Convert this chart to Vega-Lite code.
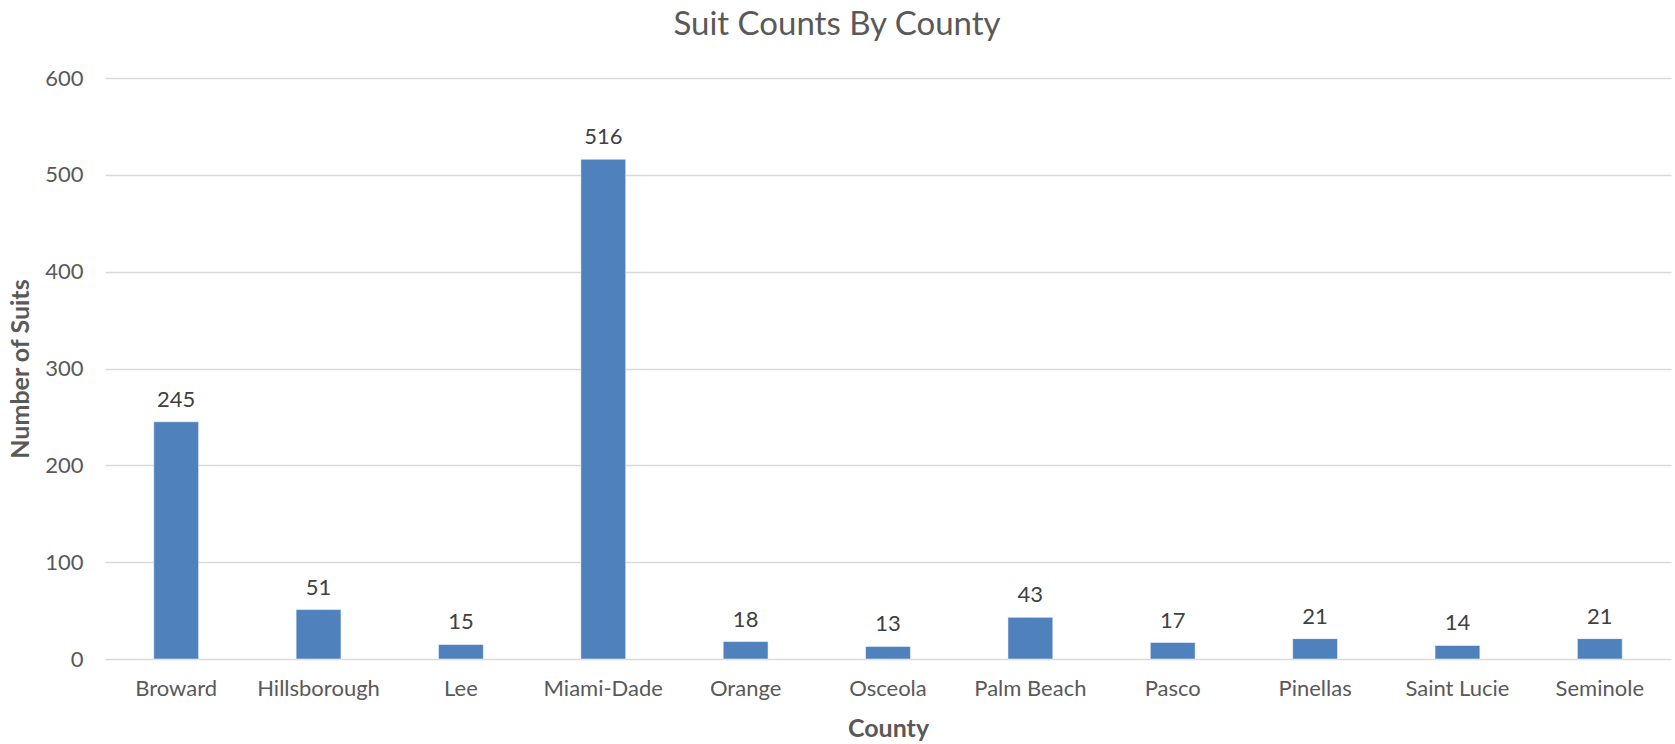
{
  "$schema": "https://vega.github.io/schema/vega-lite/v6.json",
  "width": 1566,
  "height": 581,
  "autosize": {"type": "none"},
  "padding": {"left": 105, "top": 78, "right": 4, "bottom": 85},
  "background": "white",
  "config": {
    "font": "Lato",
    "view": {"stroke": null}
  },
  "title": {
    "text": "Suit Counts By County",
    "fontSize": 33,
    "fontWeight": "normal",
    "color": "#595959",
    "font": "Lato",
    "anchor": "middle",
    "dx": -51,
    "offset": 25
  },
  "data": {
    "values": [
      {"County": "Broward", "Suits": 245},
      {"County": "Hillsborough", "Suits": 51},
      {"County": "Lee", "Suits": 15},
      {"County": "Miami-Dade", "Suits": 516},
      {"County": "Orange", "Suits": 18},
      {"County": "Osceola", "Suits": 13},
      {"County": "Palm Beach", "Suits": 43},
      {"County": "Pasco", "Suits": 17},
      {"County": "Pinellas", "Suits": 21},
      {"County": "Saint Lucie", "Suits": 14},
      {"County": "Seminole", "Suits": 21}
    ]
  },
  "encoding": {
    "x": {
      "field": "County",
      "type": "nominal",
      "sort": null,
      "scale": {"paddingInner": 0.685, "paddingOuter": 0.3425},
      "axis": {
        "title": "County",
        "titleFontSize": 25,
        "titleFontWeight": "bold",
        "titleColor": "#595959",
        "titlePadding": 17,
        "labelAngle": 0,
        "labelFontSize": 22,
        "labelColor": "#595959",
        "labelPadding": 19,
        "ticks": false,
        "domain": false,
        "grid": false
      }
    },
    "y": {
      "field": "Suits",
      "type": "quantitative",
      "scale": {"domain": [0, 600]},
      "axis": {
        "title": "Number of Suits",
        "titleFontSize": 25,
        "titleFontWeight": "bold",
        "titleColor": "#595959",
        "titlePadding": 11,
        "values": [0, 100, 200, 300, 400, 500, 600],
        "labelFontSize": 22,
        "labelColor": "#595959",
        "labelPadding": 22,
        "ticks": false,
        "domain": false,
        "grid": true,
        "gridColor": "#D9D9D9",
        "gridWidth": 1.5
      }
    }
  },
  "layer": [
    {
      "mark": {"type": "bar", "color": "#4F81BD", "stroke": "#ffffff", "strokeWidth": 0.5}
    },
    {
      "mark": {"type": "text", "baseline": "bottom", "dy": -10, "fontSize": 22, "color": "#404040"},
      "encoding": {"text": {"field": "Suits", "type": "quantitative"}}
    }
  ]
}
